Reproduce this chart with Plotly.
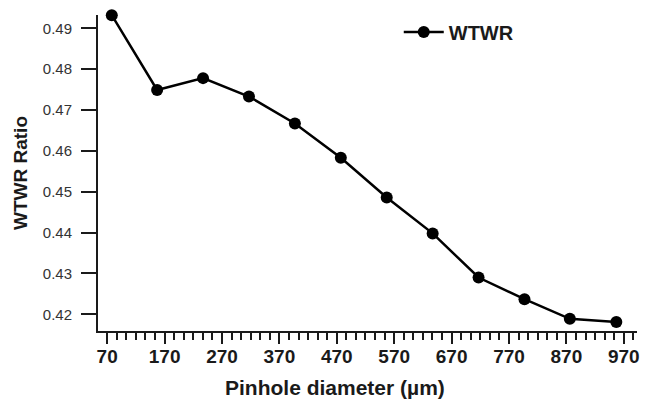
import plotly.graph_objects as go

# Pinhole diameter (µm) and measured WTWR ratio
diameter_um = [78, 157, 237, 317, 397, 477, 557, 637, 717, 797, 876, 957]
wtwr_ratio = [0.4932, 0.4749, 0.4778, 0.4733, 0.4667, 0.4583,
              0.4486, 0.4398, 0.4290, 0.4237, 0.4189, 0.4181]

x_tick_vals = [70, 170, 270, 370, 470, 570, 670, 770, 870, 970]
y_tick_vals = [0.42, 0.43, 0.44, 0.45, 0.46, 0.47, 0.48, 0.49]

FONT = "Liberation Sans, Arial, Helvetica, sans-serif"
INK = "#1a1a1a"

fig = go.Figure()
fig.add_trace(go.Scatter(
    x=diameter_um,
    y=wtwr_ratio,
    mode="lines+markers",
    name="WTWR",
    line=dict(color="black", width=2.5),
    marker=dict(color="black", size=12),
    cliponaxis=False,
))

fig.update_layout(
    width=648,
    height=409,
    margin=dict(l=98, r=8, t=15, b=78),
    paper_bgcolor="white",
    plot_bgcolor="white",
    font=dict(family=FONT, color=INK),
    showlegend=True,
    legend=dict(
        x=0.558, y=1.008, xanchor="left", yanchor="top",
        bgcolor="rgba(0,0,0,0)",
        font=dict(family=FONT, size=20, color=INK, weight="bold"),
        itemwidth=40,
    ),
    xaxis=dict(
        range=[54, 993],
        showgrid=False,
        zeroline=False,
        showline=True,
        linecolor=INK,
        linewidth=2,
        tickmode="array",
        tickvals=x_tick_vals,
        ticktext=[str(v) for v in x_tick_vals],
        ticks="outside",
        ticklen=11,
        tickwidth=2,
        tickcolor=INK,
        tickfont=dict(family=FONT, size=19, color=INK, weight="bold"),
        ticklabelstandoff=-4,
        minor=dict(
            tick0=70, dtick=100 / 6, ticks="outside",
            ticklen=7, tickwidth=1.5, tickcolor=INK, showgrid=False,
        ),
    ),
    yaxis=dict(
        range=[0.41591, 0.49325],
        showgrid=False,
        zeroline=False,
        showline=True,
        linecolor=INK,
        linewidth=2,
        tickmode="array",
        tickvals=y_tick_vals,
        ticktext=[f"{v:.2f}" for v in y_tick_vals],
        ticks="outside",
        ticklen=15,
        tickwidth=2,
        tickcolor=INK,
        tickfont=dict(family=FONT, size=15, color="#333333"),
        ticklabelstandoff=6,
        title=dict(
            text="WTWR Ratio",
            font=dict(family=FONT, size=19, color=INK, weight="bold"),
            standoff=10,
        ),
    ),
    annotations=[dict(
        text="Pinhole diameter (µm)",
        xref="paper", yref="paper",
        x=0.439, y=-0.178,
        xanchor="center", yanchor="middle",
        showarrow=False,
        font=dict(family=FONT, size=21, color=INK, weight="bold"),
    )],
)

fig.write_html("out.html")
